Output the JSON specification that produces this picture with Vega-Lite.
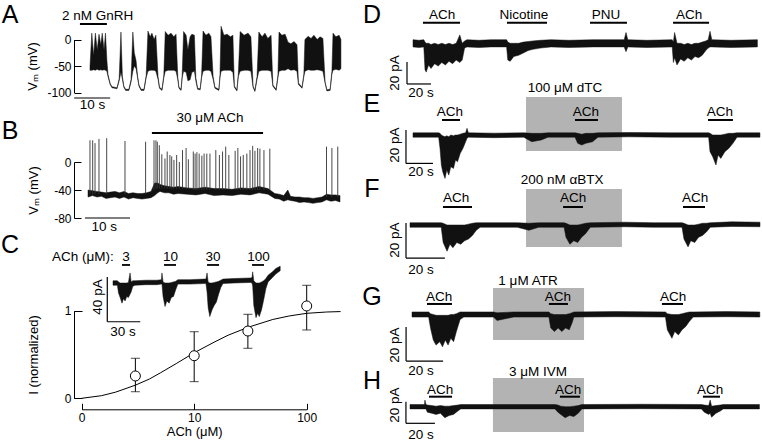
{
"$schema": "https://vega.github.io/schema/vega-lite/v6.json",
"width": 762, "height": 442, "autosize": {"type": "none"}, "padding": 0,
"config": {
 "font": "Liberation Sans",
 "view": {"stroke": null},
 "text": {"color": "#000", "font": "Liberation Sans"},
 "axis": {"labelFont": "Liberation Sans", "labelFontSize": 12, "titleFont": "Liberation Sans", "titleFontSize": 13, "titleFontWeight": "normal", "labelColor": "#000", "titleColor": "#000", "domainColor": "#000", "tickColor": "#000", "grid": false, "labelFlush": false, "labelOverlap": false}
},
"datasets": {
 "A_env": [
  {"t":0,"v":-58,"v2":-50},{"t":0.5,"v":-58,"v2":12},{"t":1.0,"v":-57,"v2":-30},{"t":1.5,"v":-58,"v2":12},{"t":2.0,"v":-56,"v2":-20},{"t":2.5,"v":-58,"v2":10},{"t":3.0,"v":-57,"v2":-10},{"t":3.4,"v":-58,"v2":12},{"t":3.9,"v":-57,"v2":-20},{"t":4.3,"v":-58,"v2":12},{"t":4.7,"v":-60,"v2":-40},{"t":5.0,"v":-70,"v2":-66},{"t":5.6,"v":-85,"v2":-83},{"t":6.1,"v":-91,"v2":-89},{"t":7.5,"v":-93,"v2":-91},{"t":8.1,"v":-78,"v2":-74},{"t":8.6,"v":-62,"v2":14},{"t":9.0,"v":-75,"v2":-70},{"t":9.4,"v":-90,"v2":-88},{"t":9.9,"v":-96,"v2":-94},{"t":10.8,"v":-96,"v2":-94},{"t":11.4,"v":-80,"v2":-76},{"t":11.9,"v":-60,"v2":14},{"t":12.3,"v":-50,"v2":-25},{"t":12.8,"v":-55,"v2":-40},{"t":13.2,"v":-72,"v2":-68},{"t":13.6,"v":-88,"v2":-86},{"t":14.2,"v":-96,"v2":-94},{"t":15.0,"v":-96,"v2":-94},{"t":15.6,"v":-72,"v2":-68},{"t":16.1,"v":-60,"v2":16},{"t":16.7,"v":-58,"v2":5},{"t":17.2,"v":-58,"v2":12},{"t":17.8,"v":-58,"v2":0},{"t":18.3,"v":-60,"v2":8},{"t":18.9,"v":-75,"v2":-70},{"t":19.3,"v":-92,"v2":-90},{"t":20.0,"v":-96,"v2":-94},{"t":20.5,"v":-72,"v2":-68},{"t":20.9,"v":-60,"v2":15},{"t":21.7,"v":-58,"v2":8},{"t":22.5,"v":-58,"v2":12},{"t":23.3,"v":-58,"v2":5},{"t":23.9,"v":-60,"v2":10},{"t":24.4,"v":-76,"v2":-72},{"t":24.7,"v":-92,"v2":-90},{"t":25.3,"v":-96,"v2":-94},{"t":25.6,"v":-72,"v2":-68},{"t":26.0,"v":-60,"v2":15},{"t":26.7,"v":-62,"v2":8},{"t":27.2,"v":-78,"v2":-20},{"t":27.8,"v":-76,"v2":5},{"t":28.3,"v":-62,"v2":10},{"t":29.0,"v":-60,"v2":8},{"t":29.4,"v":-78,"v2":-72},{"t":29.9,"v":-94,"v2":-92},{"t":30.6,"v":-95,"v2":-93},{"t":31.0,"v":-72,"v2":-68},{"t":31.4,"v":-60,"v2":16},{"t":32.2,"v":-58,"v2":8},{"t":33.0,"v":-58,"v2":12},{"t":33.6,"v":-60,"v2":5},{"t":34.2,"v":-75,"v2":-70},{"t":34.7,"v":-92,"v2":-90},{"t":35.8,"v":-96,"v2":-94},{"t":36.1,"v":-72,"v2":-68},{"t":36.4,"v":-60,"v2":25},{"t":37.2,"v":-58,"v2":8},{"t":38.1,"v":-58,"v2":10},{"t":39.0,"v":-58,"v2":5},{"t":39.7,"v":-62,"v2":8},{"t":40.1,"v":-90,"v2":-88},{"t":40.8,"v":-97,"v2":-95},{"t":41.2,"v":-70,"v2":-65},{"t":41.7,"v":-60,"v2":15},{"t":42.8,"v":-58,"v2":8},{"t":43.9,"v":-58,"v2":12},{"t":44.7,"v":-60,"v2":5},{"t":45.3,"v":-90,"v2":-88},{"t":45.8,"v":-98,"v2":-96},{"t":46.4,"v":-75,"v2":-70},{"t":46.9,"v":-60,"v2":14},{"t":47.8,"v":-58,"v2":5},{"t":48.6,"v":-58,"v2":12},{"t":49.4,"v":-58,"v2":2},{"t":50.3,"v":-60,"v2":8},{"t":50.8,"v":-88,"v2":-86},{"t":51.7,"v":-96,"v2":-94},{"t":52.2,"v":-72,"v2":-68},{"t":52.5,"v":-60,"v2":14},{"t":53.3,"v":-58,"v2":8},{"t":54.2,"v":-58,"v2":10},{"t":55.0,"v":-55,"v2":-5},{"t":55.8,"v":-58,"v2":-8},{"t":56.7,"v":-57,"v2":-4},{"t":57.5,"v":-60,"v2":-10},{"t":57.9,"v":-85,"v2":-82},{"t":58.9,"v":-92,"v2":-90},{"t":59.4,"v":-70,"v2":-66},{"t":59.7,"v":-60,"v2":0},{"t":60.6,"v":-57,"v2":6},{"t":61.4,"v":-58,"v2":2},{"t":62.2,"v":-58,"v2":8},{"t":63.1,"v":-57,"v2":0},{"t":63.9,"v":-58,"v2":5},{"t":64.7,"v":-60,"v2":2},{"t":65.3,"v":-82,"v2":-80},{"t":65.8,"v":-97,"v2":-95},{"t":66.7,"v":-96,"v2":-94},{"t":67.2,"v":-65,"v2":-60},{"t":67.5,"v":-58,"v2":12},{"t":68.3,"v":-56,"v2":5},{"t":69.2,"v":-58,"v2":8},{"t":69.7,"v":-55,"v2":0}
 ],
 "A_seg": [{"k":"bar","t":-2.8,"v":29.2,"t2":4.7,"v2":29.2},{"k":"sb","t":-4.4,"v":-110.4,"t2":5.6,"v2":-110.4}],
 "A_txt": [{"k":"lab","t":2.1,"v":44,"s":"2 nM GnRH"},{"k":"lab","t":0.7,"v":-123.6,"s":"10 s"},{"k":"let","t":-22.2,"v":46.2,"s":"A"}],
 "B_env": [
  {"t":0,"v":-50,"v2":-40},{"t":1,"v":-48,"v2":-41},{"t":2,"v":-50,"v2":-42},{"t":3,"v":-49,"v2":-43},{"t":4,"v":-52,"v2":-44},{"t":5,"v":-51,"v2":-43},{"t":6,"v":-50,"v2":-42},{"t":7,"v":-52,"v2":-44},{"t":8,"v":-50,"v2":-42},{"t":9,"v":-53,"v2":-45},{"t":10,"v":-51,"v2":-44},{"t":11,"v":-52,"v2":-45},{"t":12,"v":-53,"v2":-45},{"t":13,"v":-52,"v2":-44},{"t":14,"v":-51,"v2":-42},{"t":14.8,"v":-48,"v2":-30},{"t":15.5,"v":-44,"v2":-30},{"t":16,"v":-42,"v2":-32},{"t":17,"v":-44,"v2":-34},{"t":18,"v":-44,"v2":-35},{"t":19,"v":-46,"v2":-36},{"t":20,"v":-45,"v2":-35},{"t":22,"v":-46,"v2":-37},{"t":24,"v":-47,"v2":-38},{"t":26,"v":-45,"v2":-36},{"t":28,"v":-48,"v2":-38},{"t":30,"v":-47,"v2":-38},{"t":32,"v":-48,"v2":-39},{"t":34,"v":-46,"v2":-37},{"t":36,"v":-47,"v2":-38},{"t":38,"v":-44,"v2":-35},{"t":40,"v":-46,"v2":-38},{"t":41.5,"v":-52,"v2":-45},{"t":42.5,"v":-53,"v2":-46},{"t":43.5,"v":-56,"v2":-48},{"t":44.4,"v":-54,"v2":-40},{"t":45,"v":-55,"v2":-49},{"t":46,"v":-56,"v2":-50},{"t":47,"v":-58,"v2":-50},{"t":48,"v":-57,"v2":-51},{"t":49,"v":-58,"v2":-51},{"t":50,"v":-59,"v2":-52},{"t":51,"v":-58,"v2":-51},{"t":52,"v":-57,"v2":-50},{"t":53,"v":-54,"v2":-46},{"t":54,"v":-56,"v2":-47},{"t":55,"v":-55,"v2":-47},{"t":56,"v":-57,"v2":-48}
 ],
 "B_seg": [
  {"k":"bar","t":14.2,"v":41.4,"t2":38.9,"v2":41.4},{"k":"sb","t":-0.67,"v":-80,"t2":9.33,"v2":-80},
  {"k":"spk","t":0.44,"v":-46,"t2":0.44,"v2":31},{"k":"spk","t":1.04,"v":-46,"t2":1.04,"v2":31},{"k":"spk","t":1.56,"v":-46,"t2":1.56,"v2":27},{"k":"spk","t":2.44,"v":-46,"t2":2.44,"v2":33},{"k":"spk","t":4.15,"v":-46,"t2":4.15,"v2":34},{"k":"spk","t":8.22,"v":-46,"t2":8.22,"v2":30},{"k":"spk","t":12.8,"v":-46,"t2":12.8,"v2":29},{"k":"spk","t":14.67,"v":-40,"t2":14.67,"v2":31},{"k":"spk","t":15.1,"v":-38,"t2":15.1,"v2":31},{"k":"spk","t":15.4,"v":-38,"t2":15.4,"v2":29},{"k":"spk","t":15.85,"v":-38,"t2":15.85,"v2":24},{"k":"spk","t":16.4,"v":-38,"t2":16.4,"v2":11},{"k":"spk","t":17.1,"v":-38,"t2":17.1,"v2":5},{"k":"spk","t":17.6,"v":-38,"t2":17.6,"v2":15},{"k":"spk","t":18.2,"v":-38,"t2":18.2,"v2":10},{"k":"spk","t":18.6,"v":-38,"t2":18.6,"v2":8},{"k":"spk","t":19.1,"v":-38,"t2":19.1,"v2":3},{"k":"spk","t":19.7,"v":-38,"t2":19.7,"v2":10},{"k":"spk","t":20.3,"v":-38,"t2":20.3,"v2":0},{"k":"spk","t":21.0,"v":-38,"t2":21.0,"v2":17},{"k":"spk","t":21.8,"v":-38,"t2":21.8,"v2":20},{"k":"spk","t":22.3,"v":-38,"t2":22.3,"v2":4},{"k":"spk","t":23.4,"v":-40,"t2":23.4,"v2":15},{"k":"spk","t":23.8,"v":-40,"t2":23.8,"v2":12},{"k":"spk","t":24.2,"v":-40,"t2":24.2,"v2":14},{"k":"spk","t":24.7,"v":-40,"t2":24.7,"v2":12},{"k":"spk","t":25.3,"v":-40,"t2":25.3,"v2":9},{"k":"spk","t":25.8,"v":-40,"t2":25.8,"v2":12},{"k":"spk","t":26.4,"v":-40,"t2":26.4,"v2":12},{"k":"spk","t":27.1,"v":-40,"t2":27.1,"v2":12},{"k":"spk","t":28.4,"v":-40,"t2":28.4,"v2":17},{"k":"spk","t":29.2,"v":-40,"t2":29.2,"v2":10},{"k":"spk","t":29.9,"v":-40,"t2":29.9,"v2":15},{"k":"spk","t":30.6,"v":-40,"t2":30.6,"v2":22},{"k":"spk","t":31.3,"v":-40,"t2":31.3,"v2":10},{"k":"spk","t":32.7,"v":-40,"t2":32.7,"v2":16},{"k":"spk","t":33.3,"v":-40,"t2":33.3,"v2":20},{"k":"spk","t":33.9,"v":-40,"t2":33.9,"v2":8},{"k":"spk","t":34.5,"v":-40,"t2":34.5,"v2":10},{"k":"spk","t":35.3,"v":-40,"t2":35.3,"v2":12},{"k":"spk","t":36.0,"v":-40,"t2":36.0,"v2":17},{"k":"spk","t":36.6,"v":-40,"t2":36.6,"v2":23},{"k":"spk","t":37.1,"v":-40,"t2":37.1,"v2":16},{"k":"spk","t":37.7,"v":-40,"t2":37.7,"v2":20},{"k":"spk","t":38.2,"v":-40,"t2":38.2,"v2":19},{"k":"spk","t":39.1,"v":-40,"t2":39.1,"v2":17},{"k":"spk","t":40.4,"v":-40,"t2":40.4,"v2":19},{"k":"spk","t":53.0,"v":-50,"t2":53.0,"v2":22},{"k":"spk","t":54.2,"v":-50,"t2":54.2,"v2":20},{"k":"spk","t":55.5,"v":-50,"t2":55.5,"v2":22}
 ],
 "B_txt": [{"k":"lab","t":27.1,"v":62.9,"s":"30 μM ACh"},{"k":"lab","t":3.6,"v":-92.4,"s":"10 s"},{"k":"let","t":-17.3,"v":44.3,"s":"B"}],
 "C_curve": [{"t":1,"v":0},{"t":1.5,"v":0.03},{"t":2,"v":0.07},{"t":3,"v":0.15},{"t":4,"v":0.22},{"t":5,"v":0.29},{"t":7,"v":0.4},{"t":10,"v":0.52},{"t":15,"v":0.64},{"t":20,"v":0.72},{"t":30,"v":0.81},{"t":50,"v":0.9},{"t":70,"v":0.94},{"t":100,"v":0.97},{"t":150,"v":0.985},{"t":200,"v":0.99}],
 "C_pts": [{"t":3,"v":0.255},{"t":10,"v":0.486},{"t":30,"v":0.768},{"t":100,"v":1.054}],
 "C_err": [{"t":3,"v":0.075,"t2":3,"v2":0.457},{"t":10,"v":0.19,"t2":10,"v2":0.76},{"t":30,"v":0.571,"t2":30,"v2":0.959},{"t":100,"v":0.78,"t2":100,"v2":1.29}],
 "C_cap": [{"t":3,"v":0.075},{"t":3,"v":0.457},{"t":10,"v":0.19},{"t":10,"v":0.76},{"t":30,"v":0.571},{"t":30,"v":0.959},{"t":100,"v":0.78},{"t":100,"v":1.29}],
 "Ci_env": [
  {"t":0,"v":-2,"v2":2},{"t":4,"v":-2,"v2":2},{"t":5,"v":-9,"v2":1},{"t":6.5,"v":-13,"v2":0},{"t":8.2,"v":-18,"v2":0},{"t":9.5,"v":-14,"v2":0},{"t":11,"v":-16,"v2":0},{"t":12.5,"v":-12,"v2":0},{"t":14,"v":-13,"v2":0.5},{"t":15.5,"v":-10,"v2":9},{"t":16.5,"v":-8,"v2":1},{"t":18,"v":-3,"v2":2},{"t":20,"v":-2,"v2":2},{"t":30,"v":-1.5,"v2":2.5},{"t":40,"v":-1.5,"v2":2.5},{"t":44,"v":-1,"v2":3},{"t":44.5,"v":-1,"v2":9},{"t":45.5,"v":-12,"v2":1},{"t":47.3,"v":-21,"v2":0},{"t":49,"v":-16,"v2":0},{"t":51,"v":-18,"v2":0},{"t":53,"v":-13,"v2":0.5},{"t":55,"v":-12,"v2":1},{"t":57,"v":-6,"v2":1.5},{"t":59,"v":-1,"v2":3},{"t":70,"v":-1,"v2":3},{"t":83,"v":-0.5,"v2":3.5},{"t":84.5,"v":-0.5,"v2":3.5},{"t":85.5,"v":-8,"v2":9},{"t":86.5,"v":-22,"v2":1},{"t":88,"v":-30,"v2":0},{"t":90,"v":-24,"v2":0},{"t":92,"v":-20,"v2":0.5},{"t":94,"v":-17,"v2":1},{"t":96,"v":-10,"v2":1.5},{"t":98,"v":-4,"v2":2.5},{"t":100,"v":-0.5,"v2":3.5},{"t":110,"v":0,"v2":4},{"t":125,"v":0.5,"v2":4.5},{"t":126.4,"v":0,"v2":5},{"t":127,"v":-3,"v2":10},{"t":128,"v":-20,"v2":2},{"t":130,"v":-31,"v2":0},{"t":131.5,"v":-27,"v2":0},{"t":133,"v":-30,"v2":0},{"t":135,"v":-24,"v2":1},{"t":137,"v":-15,"v2":2},{"t":139,"v":-5,"v2":4},{"t":141,"v":1,"v2":7},{"t":145,"v":5,"v2":10},{"t":148,"v":8,"v2":13},{"t":152,"v":11,"v2":15}
 ],
 "Ci_seg": [{"k":"bar","t":8.2,"v":16.1,"t2":15.5,"v2":16.1},{"k":"bar","t":46.4,"v":16.1,"t2":57.3,"v2":16.1},{"k":"bar","t":85.5,"v":16.1,"t2":96.4,"v2":16.1},{"k":"bar","t":126.4,"v":16.1,"t2":137.3,"v2":16.1},{"k":"sb","t":-5.2,"v":5.4,"t2":-5.2,"v2":-34.6},{"k":"sb","t":-5.2,"v":-34.6,"t2":24.8,"v2":-34.6}],
 "Ci_txt": [{"k":"labL","t":-55.5,"v":23.2,"s":"ACh (μM):"},{"k":"lab","t":11.8,"v":23.2,"s":"3"},{"k":"lab","t":52.3,"v":23.2,"s":"10"},{"k":"lab","t":91,"v":23.2,"s":"30"},{"k":"lab","t":132.3,"v":23.2,"s":"100"},{"k":"rot","t":-13.6,"v":-12.5,"s":"40 pA"},{"k":"lab","t":9.1,"v":-43.5,"s":"30 s"},{"k":"let","t":-93.6,"v":33.9,"s":"C"}],
 "D_env": [
  {"t":0,"v":-3,"v2":3},{"t":5,"v":-3.5,"v2":2.5},{"t":9,"v":-3,"v2":3},{"t":10,"v":-22,"v2":1},{"t":11,"v":-24,"v2":0},{"t":13,"v":-18,"v2":0},{"t":15,"v":-21,"v2":-1},{"t":18,"v":-17,"v2":0},{"t":21,"v":-19,"v2":-1},{"t":24,"v":-16,"v2":0},{"t":27,"v":-18,"v2":-1},{"t":30,"v":-15,"v2":0},{"t":33,"v":-17,"v2":-1},{"t":36,"v":-14,"v2":0},{"t":39,"v":-16,"v2":7},{"t":41,"v":-14,"v2":0},{"t":43,"v":-4,"v2":2},{"t":45,"v":-3,"v2":3},{"t":55,"v":-3.5,"v2":2.5},{"t":65,"v":-3,"v2":3},{"t":78,"v":-3,"v2":3},{"t":79,"v":-14,"v2":1},{"t":81,"v":-15,"v2":0},{"t":84,"v":-11,"v2":0},{"t":88,"v":-10,"v2":0},{"t":92,"v":-8,"v2":1},{"t":96,"v":-6,"v2":1.5},{"t":100,"v":-5,"v2":2},{"t":106,"v":-4,"v2":2.5},{"t":115,"v":-3,"v2":3},{"t":130,"v":-3.5,"v2":2.5},{"t":150,"v":-3,"v2":3},{"t":176,"v":-3,"v2":3},{"t":177.5,"v":-7,"v2":9},{"t":179,"v":-3,"v2":3},{"t":195,"v":-3.5,"v2":2.5},{"t":216,"v":-3,"v2":3},{"t":217,"v":-16,"v2":1},{"t":218,"v":-12,"v2":9},{"t":220,"v":-18,"v2":0},{"t":223,"v":-13,"v2":0},{"t":226,"v":-15,"v2":-1},{"t":229,"v":-12,"v2":0},{"t":232,"v":-14,"v2":-1},{"t":235,"v":-11,"v2":0},{"t":238,"v":-12,"v2":0},{"t":241,"v":-10,"v2":1},{"t":244,"v":-6,"v2":2},{"t":246,"v":-4,"v2":3},{"t":247.5,"v":-3,"v2":10},{"t":249,"v":-3,"v2":3},{"t":265,"v":-3.5,"v2":2.5},{"t":287,"v":-3,"v2":3}
 ],
 "D_seg": [{"k":"bar","t":8.3,"v":17.2,"t2":39.2,"v2":17.2},{"k":"bar","t":78.3,"v":17.2,"t2":111.7,"v2":17.2},{"k":"bar","t":147.5,"v":17.2,"t2":178.3,"v2":17.2},{"k":"bar","t":216.7,"v":17.2,"t2":246.7,"v2":17.2},{"k":"sb","t":-5,"v":-15.6,"t2":-5,"v2":-33.9},{"k":"sb","t":-5,"v":-33.9,"t2":15,"v2":-33.9}],
 "D_txt": [{"k":"lab","t":24.2,"v":23.6,"s":"ACh"},{"k":"lab","t":92.5,"v":23.6,"s":"Nicotine"},{"k":"lab","t":160.8,"v":23.6,"s":"PNU"},{"k":"lab","t":230,"v":23.6,"s":"ACh"},{"k":"rot","t":-15,"v":-24.75,"s":"20 pA"},{"k":"lab","t":6.7,"v":-41.4,"s":"20 s"},{"k":"let","t":-34.2,"v":23.6,"s":"D"}],
 "E_box": [{"t":83.7,"v":-9.6,"t2":154.8,"v2":22.8}],
 "E_env": [
  {"t":0,"v":-1.3,"v2":1.3},{"t":19,"v":-1.3,"v2":1.3},{"t":20,"v":-8,"v2":1},{"t":21,"v":-18,"v2":0},{"t":22,"v":-22,"v2":-0.5},{"t":23.7,"v":-26,"v2":-1},{"t":25,"v":-21,"v2":-0.5},{"t":26.5,"v":-24,"v2":-1},{"t":28,"v":-19,"v2":0},{"t":30,"v":-20,"v2":-0.5},{"t":31.5,"v":-15,"v2":0},{"t":33,"v":-16,"v2":0},{"t":35,"v":-11,"v2":0.5},{"t":37,"v":-8,"v2":1},{"t":39,"v":-4,"v2":1.3},{"t":40,"v":-2,"v2":4},{"t":41,"v":-1.3,"v2":1.3},{"t":60,"v":-1.6,"v2":1.1},{"t":82,"v":-1.3,"v2":1.3},{"t":88,"v":-4,"v2":1},{"t":95,"v":-3,"v2":1},{"t":100,"v":-1.3,"v2":1.3},{"t":120,"v":-1.3,"v2":1.3},{"t":122,"v":-5,"v2":1},{"t":125,"v":-6,"v2":0.5},{"t":128,"v":-5,"v2":1},{"t":133,"v":-4,"v2":1},{"t":137,"v":-1.3,"v2":1.3},{"t":160,"v":-1.1,"v2":1.5},{"t":190,"v":-1.3,"v2":1.3},{"t":219,"v":-1.3,"v2":1.3},{"t":220,"v":-10,"v2":1},{"t":222,"v":-13,"v2":0},{"t":224.4,"v":-18,"v2":0},{"t":226,"v":-12,"v2":0},{"t":228,"v":-14,"v2":0},{"t":231,"v":-10,"v2":0.5},{"t":234,"v":-8,"v2":1},{"t":237,"v":-5,"v2":1},{"t":240,"v":-1.3,"v2":1.3},{"t":257,"v":-1.3,"v2":1.3}
 ],
 "E_seg": [{"k":"bar","t":21.5,"v":9,"t2":34.8,"v2":9},{"k":"bar","t":120,"v":9,"t2":137,"v2":9},{"k":"bar","t":218.5,"v":9,"t2":237,"v2":9},{"k":"sb","t":-5.2,"v":3,"t2":-5.2,"v2":-17},{"k":"sb","t":-5.2,"v":-17,"t2":14.8,"v2":-17}],
 "E_txt": [{"k":"lab","t":27.4,"v":14,"s":"ACh"},{"k":"lab","t":128.1,"v":14,"s":"ACh"},{"k":"lab","t":227.4,"v":14,"s":"ACh"},{"k":"lab","t":112.6,"v":28.1,"s":"100 μM dTC"},{"k":"rot","t":-13.3,"v":-6,"s":"20 pA"},{"k":"lab","t":5.9,"v":-22,"s":"20 s"},{"k":"let","t":-30.4,"v":18.6,"s":"E"}],
 "F_box": [{"t":59.5,"v":-12.6,"t2":108.7,"v2":20.6}],
 "F_env": [
  {"t":0,"v":-1.3,"v2":1.3},{"t":16,"v":-1.3,"v2":1.3},{"t":17,"v":-10,"v2":1},{"t":19,"v":-15,"v2":0},{"t":20.5,"v":-11,"v2":0},{"t":22,"v":-13,"v2":0},{"t":24,"v":-10,"v2":0},{"t":26,"v":-11,"v2":0},{"t":28,"v":-9,"v2":0},{"t":30,"v":-8,"v2":0.5},{"t":32,"v":-6,"v2":1},{"t":34,"v":-3,"v2":1.3},{"t":36,"v":-1.3,"v2":1.3},{"t":55,"v":-1.3,"v2":1.3},{"t":61,"v":-3,"v2":1},{"t":66,"v":-1.3,"v2":1.3},{"t":79,"v":-1.3,"v2":1.3},{"t":80,"v":-7,"v2":1},{"t":82,"v":-11,"v2":0},{"t":84,"v":-9,"v2":0},{"t":86,"v":-10,"v2":0},{"t":88,"v":-7,"v2":0.5},{"t":90,"v":-5,"v2":1},{"t":92.5,"v":-1.3,"v2":1.3},{"t":110,"v":-1,"v2":1.6},{"t":125,"v":-1.3,"v2":1.3},{"t":139.5,"v":-1.3,"v2":1.3},{"t":140.5,"v":-8,"v2":1},{"t":142.6,"v":-12.5,"v2":0},{"t":144,"v":-9,"v2":0},{"t":146,"v":-10,"v2":0},{"t":148,"v":-7,"v2":0.5},{"t":150,"v":-6,"v2":1},{"t":152,"v":-4,"v2":1},{"t":154,"v":-1.3,"v2":1.3},{"t":165,"v":-0.8,"v2":1.8},{"t":179.5,"v":-1,"v2":1.6}
 ],
 "F_seg": [{"k":"bar","t":16.9,"v":10.3,"t2":31.8,"v2":10.3},{"k":"bar","t":78.5,"v":10.3,"t2":88.7,"v2":10.3},{"k":"bar","t":140,"v":10.3,"t2":151.3,"v2":10.3},{"k":"sb","t":-2.05,"v":1.1,"t2":-2.05,"v2":-18.9},{"k":"sb","t":-2.05,"v":-18.9,"t2":17.9,"v2":-18.9}],
 "F_txt": [{"k":"lab","t":23.6,"v":15.4,"s":"ACh"},{"k":"lab","t":83.6,"v":15.4,"s":"ACh"},{"k":"lab","t":146.2,"v":15.4,"s":"ACh"},{"k":"lab","t":78,"v":25.7,"s":"200 nM αBTX"},{"k":"rot","t":-7.7,"v":-8.6,"s":"20 pA"},{"k":"lab","t":5.6,"v":-25.7,"s":"20 s"},{"k":"let","t":-19.5,"v":20.6,"s":"F"}],
 "G_box": [{"t":43.8,"v":-15,"t2":93,"v2":15.6}],
 "G_env": [
  {"t":0,"v":-1.5,"v2":1.5},{"t":9,"v":-1.5,"v2":1.5},{"t":10,"v":-8,"v2":0.5},{"t":11.5,"v":-15,"v2":0},{"t":13,"v":-18,"v2":-0.5},{"t":15,"v":-16,"v2":-0.5},{"t":16.5,"v":-19,"v2":-0.5},{"t":18,"v":-15,"v2":-0.5},{"t":19.5,"v":-18,"v2":-0.5},{"t":21,"v":-14,"v2":0},{"t":22.5,"v":-16,"v2":0},{"t":24,"v":-10,"v2":0.5},{"t":26,"v":-3,"v2":1.5},{"t":28,"v":-1.5,"v2":1.5},{"t":44,"v":-1.5,"v2":1.5},{"t":46,"v":-3.5,"v2":1},{"t":55,"v":-1.5,"v2":1.5},{"t":74,"v":-1.5,"v2":1.5},{"t":75,"v":-8,"v2":0.5},{"t":77,"v":-10,"v2":0},{"t":79,"v":-8,"v2":0},{"t":81,"v":-10,"v2":0},{"t":83,"v":-8,"v2":0},{"t":85,"v":-9,"v2":0.5},{"t":86.5,"v":-5,"v2":1},{"t":87.5,"v":-1.5,"v2":1.5},{"t":110,"v":-1.3,"v2":1.7},{"t":137,"v":-1.5,"v2":1.5},{"t":138,"v":-9,"v2":0.5},{"t":140.5,"v":-14,"v2":0},{"t":142,"v":-10,"v2":0},{"t":144,"v":-12,"v2":0},{"t":146,"v":-9,"v2":0.5},{"t":148,"v":-7,"v2":1},{"t":150,"v":-4,"v2":1.5},{"t":152,"v":-1.5,"v2":1.5},{"t":170,"v":-1.3,"v2":1.7},{"t":188,"v":-1.5,"v2":1.5}
 ],
 "G_seg": [{"k":"bar","t":8.1,"v":6.2,"t2":21.6,"v2":6.2},{"k":"bar","t":74,"v":6.2,"t2":84.3,"v2":6.2},{"k":"bar","t":135.1,"v":6.2,"t2":146.5,"v2":6.2},{"k":"sb","t":-3.2,"v":-7.4,"t2":-3.2,"v2":-27.4},{"k":"sb","t":-3.2,"v":-27.4,"t2":16.8,"v2":-27.4}],
 "G_txt": [{"k":"lab","t":14.6,"v":10.3,"s":"ACh"},{"k":"lab","t":78.9,"v":10.3,"s":"ACh"},{"k":"lab","t":141.1,"v":10.3,"s":"ACh"},{"k":"lab","t":62.7,"v":19.7,"s":"1 μM ATR"},{"k":"rot","t":-9.2,"v":-18,"s":"20 pA"},{"k":"lab","t":4.9,"v":-33.2,"s":"20 s"},{"k":"let","t":-21.6,"v":10.3,"s":"G"}],
 "H_box": [{"t":57.2,"v":-23,"t2":120,"v2":26.1}],
 "H_env": [
  {"t":0,"v":-2,"v2":2},{"t":10,"v":-2,"v2":2},{"t":10.3,"v":-2,"v2":6},{"t":11,"v":-2,"v2":2},{"t":12,"v":-5,"v2":1.5},{"t":15,"v":-6,"v2":1},{"t":18,"v":-7,"v2":0.5},{"t":21,"v":-6,"v2":1},{"t":24,"v":-10,"v2":0.5},{"t":27,"v":-8,"v2":0.5},{"t":30,"v":-7,"v2":1},{"t":33,"v":-4,"v2":1.5},{"t":35,"v":-2,"v2":2},{"t":60,"v":-2,"v2":2},{"t":100,"v":-2,"v2":2},{"t":102,"v":-5,"v2":1.5},{"t":104,"v":-7,"v2":0.5},{"t":107,"v":-10,"v2":0},{"t":110,"v":-8,"v2":0},{"t":113,"v":-9,"v2":0.5},{"t":116,"v":-6,"v2":1},{"t":118.5,"v":-2,"v2":2},{"t":160,"v":-1.8,"v2":2.2},{"t":201,"v":-2,"v2":2},{"t":203,"v":-5,"v2":1.5},{"t":206,"v":-7,"v2":1},{"t":207,"v":-6,"v2":6},{"t":208,"v":-9.5,"v2":0.5},{"t":211,"v":-6,"v2":1},{"t":214,"v":-4,"v2":1.5},{"t":216,"v":-2,"v2":2},{"t":241,"v":-2,"v2":2}
 ],
 "H_seg": [{"k":"bar","t":13.1,"v":9.1,"t2":29,"v2":9.1},{"k":"bar","t":103.4,"v":9.1,"t2":117.2,"v2":9.1},{"k":"bar","t":202,"v":9.1,"t2":213.8,"v2":9.1},{"k":"sb","t":-2.8,"v":4.5,"t2":-2.8,"v2":-15.1},{"k":"sb","t":-2.8,"v":-15.1,"t2":17.2,"v2":-15.1}],
 "H_txt": [{"k":"lab","t":20.7,"v":15.2,"s":"ACh"},{"k":"lab","t":109,"v":15.2,"s":"ACh"},{"k":"lab","t":206.9,"v":15.2,"s":"ACh"},{"k":"lab","t":88.3,"v":31.8,"s":"3 μM IVM"},{"k":"rot","t":-10.3,"v":1.5,"s":"20 pA"},{"k":"lab","t":7.6,"v":-25.8,"s":"20 s"},{"k":"let","t":-26.2,"v":23.4,"s":"H"}]
},
"resolve": {"scale": {"x": "independent", "y": "independent"}, "axis": {"x": "independent", "y": "independent"}},
"layer": [
 {
  "encoding": {
   "x": {"field": "t", "type": "quantitative", "scale": {"domain": [0, 70], "range": [90, 342], "nice": false, "zero": false}, "axis": null},
   "y": {"field": "v", "type": "quantitative", "scale": {"domain": [-100, 0], "range": [92.5, 39.5], "nice": false, "zero": false},
         "axis": {"orient": "left", "offset": -74, "values": [0, -50, -100], "labelExpr": "datum.value < 0 ? '-' + abs(datum.value) : '' + datum.value", "tickSize": -7, "labelPadding": 10, "title": "Vₘ (mV)", "titlePadding": 7}}
  },
  "layer": [
   {"data": {"name": "A_env"}, "mark": {"type": "area", "color": "#111", "stroke": "#111", "strokeWidth": 0.5}, "encoding": {"y2": {"field": "v2"}}},
   {"data": {"name": "A_seg"}, "transform": [{"filter": "datum.k==='bar'"}], "mark": {"type": "rule", "color": "#000", "strokeWidth": 2}, "encoding": {"x2": {"field": "t2"}, "y2": {"field": "v2"}}},
   {"data": {"name": "A_seg"}, "transform": [{"filter": "datum.k==='sb'"}], "mark": {"type": "rule", "color": "#000", "strokeWidth": 1.2}, "encoding": {"x2": {"field": "t2"}, "y2": {"field": "v2"}}},
   {"data": {"name": "A_txt"}, "transform": [{"filter": "datum.k==='lab'"}], "mark": {"type": "text", "fontSize": 13.5}, "encoding": {"text": {"field": "s"}}},
   {"data": {"name": "A_txt"}, "transform": [{"filter": "datum.k==='let'"}], "mark": {"type": "text", "fontSize": 25}, "encoding": {"text": {"field": "s"}}}
  ]
 },
 {
  "encoding": {
   "x": {"field": "t", "type": "quantitative", "scale": {"domain": [0, 56], "range": [88, 340], "nice": false, "zero": false}, "axis": null},
   "y": {"field": "v", "type": "quantitative", "scale": {"domain": [-80, 0], "range": [218, 162], "nice": false, "zero": false},
         "axis": {"orient": "left", "offset": -74, "values": [0, -40, -80], "labelExpr": "datum.value < 0 ? '-' + abs(datum.value) : '' + datum.value", "tickSize": -7, "labelPadding": 10, "title": "Vₘ (mV)", "titlePadding": 13}}
  },
  "layer": [
   {"data": {"name": "B_env"}, "mark": {"type": "area", "color": "#111", "stroke": "#111", "strokeWidth": 0.5}, "encoding": {"y2": {"field": "v2"}}},
   {"data": {"name": "B_seg"}, "transform": [{"filter": "datum.k==='spk'"}], "mark": {"type": "rule", "color": "#333", "strokeWidth": 0.9}, "encoding": {"x2": {"field": "t2"}, "y2": {"field": "v2"}}},
   {"data": {"name": "B_seg"}, "transform": [{"filter": "datum.k==='bar'"}], "mark": {"type": "rule", "color": "#000", "strokeWidth": 2}, "encoding": {"x2": {"field": "t2"}, "y2": {"field": "v2"}}},
   {"data": {"name": "B_seg"}, "transform": [{"filter": "datum.k==='sb'"}], "mark": {"type": "rule", "color": "#000", "strokeWidth": 1.2}, "encoding": {"x2": {"field": "t2"}, "y2": {"field": "v2"}}},
   {"data": {"name": "B_txt"}, "transform": [{"filter": "datum.k==='lab'"}], "mark": {"type": "text", "fontSize": 13.5}, "encoding": {"text": {"field": "s"}}},
   {"data": {"name": "B_txt"}, "transform": [{"filter": "datum.k==='let'"}], "mark": {"type": "text", "fontSize": 25}, "encoding": {"text": {"field": "s"}}}
  ]
 },
 {
  "encoding": {
   "x": {"field": "t", "type": "quantitative", "scale": {"type": "log", "domain": [1, 100], "range": [81.7, 306.7], "nice": false},
         "axis": {"orient": "bottom", "offset": -32.7, "values": [1, 10, 100], "labelExpr": "datum.value === 1 ? '0' : datum.label", "tickSize": -6, "labelPadding": 9, "title": "ACh (μM)", "titlePadding": 2}},
   "y": {"field": "v", "type": "quantitative", "scale": {"domain": [0, 1], "range": [398.3, 310.7], "nice": false, "zero": false},
         "axis": {"orient": "left", "offset": -74, "values": [0, 1], "format": "d", "tickSize": -8, "labelPadding": 11, "title": "I (normalized)", "titlePadding": 24}}
  },
  "layer": [
   {"data": {"name": "C_curve"}, "mark": {"type": "line", "color": "#000", "strokeWidth": 1}},
   {"data": {"name": "C_err"}, "mark": {"type": "rule", "color": "#000", "strokeWidth": 1}, "encoding": {"x2": {"field": "t2"}, "y2": {"field": "v2"}}},
   {"data": {"name": "C_cap"}, "mark": {"type": "tick", "orient": "horizontal", "color": "#000", "size": 9, "thickness": 1}},
   {"data": {"name": "C_pts"}, "mark": {"type": "point", "shape": "circle", "size": 100, "filled": true, "fill": "#fff", "stroke": "#000", "strokeWidth": 1, "opacity": 1}}
  ]
 },
 {
  "encoding": {
   "x": {"field": "t", "type": "quantitative", "scale": {"domain": [0, 152], "range": [113, 280.2], "nice": false, "zero": false}, "axis": null},
   "y": {"field": "v", "type": "quantitative", "scale": {"domain": [-40, 10], "range": [327.8, 271.8], "nice": false, "zero": false}, "axis": null}
  },
  "layer": [
   {"data": {"name": "Ci_env"}, "mark": {"type": "area", "color": "#111", "stroke": "#111", "strokeWidth": 0.5}, "encoding": {"y2": {"field": "v2"}}},
   {"data": {"name": "Ci_seg"}, "transform": [{"filter": "datum.k==='bar'"}], "mark": {"type": "rule", "color": "#000", "strokeWidth": 1.8}, "encoding": {"x2": {"field": "t2"}, "y2": {"field": "v2"}}},
   {"data": {"name": "Ci_seg"}, "transform": [{"filter": "datum.k==='sb'"}], "mark": {"type": "rule", "color": "#000", "strokeWidth": 1.2}, "encoding": {"x2": {"field": "t2"}, "y2": {"field": "v2"}}},
   {"data": {"name": "Ci_txt"}, "transform": [{"filter": "datum.k==='lab'"}], "mark": {"type": "text", "fontSize": 13.5}, "encoding": {"text": {"field": "s"}}},
   {"data": {"name": "Ci_txt"}, "transform": [{"filter": "datum.k==='labL'"}], "mark": {"type": "text", "fontSize": 13.5, "align": "left"}, "encoding": {"text": {"field": "s"}}},
   {"data": {"name": "Ci_txt"}, "transform": [{"filter": "datum.k==='rot'"}], "mark": {"type": "text", "fontSize": 13.5, "angle": 270}, "encoding": {"text": {"field": "s"}}},
   {"data": {"name": "Ci_txt"}, "transform": [{"filter": "datum.k==='let'"}], "mark": {"type": "text", "fontSize": 25}, "encoding": {"text": {"field": "s"}}}
  ]
 },
 {
  "encoding": {
   "x": {"field": "t", "type": "quantitative", "scale": {"domain": [0, 287], "range": [413, 757.4], "nice": false, "zero": false}, "axis": null},
   "y": {"field": "v", "type": "quantitative", "scale": {"domain": [-30, 20], "range": [79.3, 19.3], "nice": false, "zero": false}, "axis": null}
  },
  "layer": [
   {"data": {"name": "D_env"}, "mark": {"type": "area", "color": "#111", "stroke": "#111", "strokeWidth": 0.5}, "encoding": {"y2": {"field": "v2"}}},
   {"data": {"name": "D_seg"}, "transform": [{"filter": "datum.k==='bar'"}], "mark": {"type": "rule", "color": "#000", "strokeWidth": 2}, "encoding": {"x2": {"field": "t2"}, "y2": {"field": "v2"}}},
   {"data": {"name": "D_seg"}, "transform": [{"filter": "datum.k==='sb'"}], "mark": {"type": "rule", "color": "#000", "strokeWidth": 1.2}, "encoding": {"x2": {"field": "t2"}, "y2": {"field": "v2"}}},
   {"data": {"name": "D_txt"}, "transform": [{"filter": "datum.k==='lab'"}], "mark": {"type": "text", "fontSize": 13.5}, "encoding": {"text": {"field": "s"}}},
   {"data": {"name": "D_txt"}, "transform": [{"filter": "datum.k==='rot'"}], "mark": {"type": "text", "fontSize": 13.5, "angle": 270}, "encoding": {"text": {"field": "s"}}},
   {"data": {"name": "D_txt"}, "transform": [{"filter": "datum.k==='let'"}], "mark": {"type": "text", "fontSize": 25}, "encoding": {"text": {"field": "s"}}}
  ]
 },
 {
  "encoding": {
   "x": {"field": "t", "type": "quantitative", "scale": {"domain": [0, 257], "range": [413, 759.95], "nice": false, "zero": false}, "axis": null},
   "y": {"field": "v", "type": "quantitative", "scale": {"domain": [-20, 20], "range": [168.4, 101.6], "nice": false, "zero": false}, "axis": null}
  },
  "layer": [
   {"data": {"name": "E_box"}, "mark": {"type": "rect", "color": "#b3b3b3"}, "encoding": {"x2": {"field": "t2"}, "y2": {"field": "v2"}}},
   {"data": {"name": "E_env"}, "mark": {"type": "area", "color": "#111", "stroke": "#111", "strokeWidth": 0.5}, "encoding": {"y2": {"field": "v2"}}},
   {"data": {"name": "E_seg"}, "transform": [{"filter": "datum.k==='bar'"}], "mark": {"type": "rule", "color": "#000", "strokeWidth": 2}, "encoding": {"x2": {"field": "t2"}, "y2": {"field": "v2"}}},
   {"data": {"name": "E_seg"}, "transform": [{"filter": "datum.k==='sb'"}], "mark": {"type": "rule", "color": "#000", "strokeWidth": 1.2}, "encoding": {"x2": {"field": "t2"}, "y2": {"field": "v2"}}},
   {"data": {"name": "E_txt"}, "transform": [{"filter": "datum.k==='lab'"}], "mark": {"type": "text", "fontSize": 13.5}, "encoding": {"text": {"field": "s"}}},
   {"data": {"name": "E_txt"}, "transform": [{"filter": "datum.k==='rot'"}], "mark": {"type": "text", "fontSize": 13.5, "angle": 270}, "encoding": {"text": {"field": "s"}}},
   {"data": {"name": "E_txt"}, "transform": [{"filter": "datum.k==='let'"}], "mark": {"type": "text", "fontSize": 25}, "encoding": {"text": {"field": "s"}}}
  ]
 },
 {
  "encoding": {
   "x": {"field": "t", "type": "quantitative", "scale": {"domain": [0, 179.5], "range": [410, 760], "nice": false, "zero": false}, "axis": null},
   "y": {"field": "v", "type": "quantitative", "scale": {"domain": [-20, 20], "range": [260, 190], "nice": false, "zero": false}, "axis": null}
  },
  "layer": [
   {"data": {"name": "F_box"}, "mark": {"type": "rect", "color": "#b3b3b3"}, "encoding": {"x2": {"field": "t2"}, "y2": {"field": "v2"}}},
   {"data": {"name": "F_env"}, "mark": {"type": "area", "color": "#111", "stroke": "#111", "strokeWidth": 0.5}, "encoding": {"y2": {"field": "v2"}}},
   {"data": {"name": "F_seg"}, "transform": [{"filter": "datum.k==='bar'"}], "mark": {"type": "rule", "color": "#000", "strokeWidth": 2}, "encoding": {"x2": {"field": "t2"}, "y2": {"field": "v2"}}},
   {"data": {"name": "F_seg"}, "transform": [{"filter": "datum.k==='sb'"}], "mark": {"type": "rule", "color": "#000", "strokeWidth": 1.2}, "encoding": {"x2": {"field": "t2"}, "y2": {"field": "v2"}}},
   {"data": {"name": "F_txt"}, "transform": [{"filter": "datum.k==='lab'"}], "mark": {"type": "text", "fontSize": 13.5}, "encoding": {"text": {"field": "s"}}},
   {"data": {"name": "F_txt"}, "transform": [{"filter": "datum.k==='rot'"}], "mark": {"type": "text", "fontSize": 13.5, "angle": 270}, "encoding": {"text": {"field": "s"}}},
   {"data": {"name": "F_txt"}, "transform": [{"filter": "datum.k==='let'"}], "mark": {"type": "text", "fontSize": 25}, "encoding": {"text": {"field": "s"}}}
  ]
 },
 {
  "encoding": {
   "x": {"field": "t", "type": "quantitative", "scale": {"domain": [0, 188], "range": [412, 759.8], "nice": false, "zero": false}, "axis": null},
   "y": {"field": "v", "type": "quantitative", "scale": {"domain": [-20, 20], "range": [348.5, 280.5], "nice": false, "zero": false}, "axis": null}
  },
  "layer": [
   {"data": {"name": "G_box"}, "mark": {"type": "rect", "color": "#b3b3b3"}, "encoding": {"x2": {"field": "t2"}, "y2": {"field": "v2"}}},
   {"data": {"name": "G_env"}, "mark": {"type": "area", "color": "#111", "stroke": "#111", "strokeWidth": 0.5}, "encoding": {"y2": {"field": "v2"}}},
   {"data": {"name": "G_seg"}, "transform": [{"filter": "datum.k==='bar'"}], "mark": {"type": "rule", "color": "#000", "strokeWidth": 2}, "encoding": {"x2": {"field": "t2"}, "y2": {"field": "v2"}}},
   {"data": {"name": "G_seg"}, "transform": [{"filter": "datum.k==='sb'"}], "mark": {"type": "rule", "color": "#000", "strokeWidth": 1.2}, "encoding": {"x2": {"field": "t2"}, "y2": {"field": "v2"}}},
   {"data": {"name": "G_txt"}, "transform": [{"filter": "datum.k==='lab'"}], "mark": {"type": "text", "fontSize": 13.5}, "encoding": {"text": {"field": "s"}}},
   {"data": {"name": "G_txt"}, "transform": [{"filter": "datum.k==='rot'"}], "mark": {"type": "text", "fontSize": 13.5, "angle": 270}, "encoding": {"text": {"field": "s"}}},
   {"data": {"name": "G_txt"}, "transform": [{"filter": "datum.k==='let'"}], "mark": {"type": "text", "fontSize": 25}, "encoding": {"text": {"field": "s"}}}
  ]
 },
 {
  "encoding": {
   "x": {"field": "t", "type": "quantitative", "scale": {"domain": [0, 241], "range": [410, 759.45], "nice": false, "zero": false}, "axis": null},
   "y": {"field": "v", "type": "quantitative", "scale": {"domain": [-20, 20], "range": [428.7, 384.7], "nice": false, "zero": false}, "axis": null}
  },
  "layer": [
   {"data": {"name": "H_box"}, "mark": {"type": "rect", "color": "#b3b3b3"}, "encoding": {"x2": {"field": "t2"}, "y2": {"field": "v2"}}},
   {"data": {"name": "H_env"}, "mark": {"type": "area", "color": "#111", "stroke": "#111", "strokeWidth": 0.5}, "encoding": {"y2": {"field": "v2"}}},
   {"data": {"name": "H_seg"}, "transform": [{"filter": "datum.k==='bar'"}], "mark": {"type": "rule", "color": "#000", "strokeWidth": 2}, "encoding": {"x2": {"field": "t2"}, "y2": {"field": "v2"}}},
   {"data": {"name": "H_seg"}, "transform": [{"filter": "datum.k==='sb'"}], "mark": {"type": "rule", "color": "#000", "strokeWidth": 1.2}, "encoding": {"x2": {"field": "t2"}, "y2": {"field": "v2"}}},
   {"data": {"name": "H_txt"}, "transform": [{"filter": "datum.k==='lab'"}], "mark": {"type": "text", "fontSize": 13.5}, "encoding": {"text": {"field": "s"}}},
   {"data": {"name": "H_txt"}, "transform": [{"filter": "datum.k==='rot'"}], "mark": {"type": "text", "fontSize": 13.5, "angle": 270}, "encoding": {"text": {"field": "s"}}},
   {"data": {"name": "H_txt"}, "transform": [{"filter": "datum.k==='let'"}], "mark": {"type": "text", "fontSize": 25}, "encoding": {"text": {"field": "s"}}}
  ]
 }
]
}
